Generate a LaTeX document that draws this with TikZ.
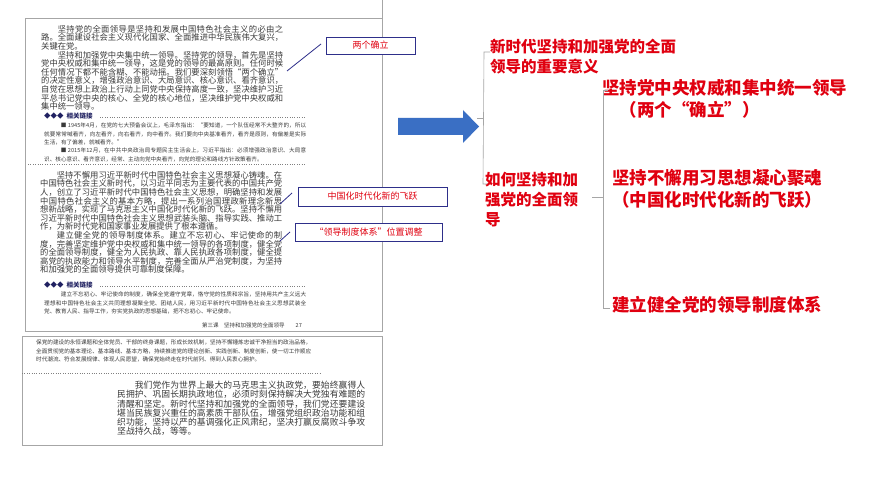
\documentclass[tikz,border=0pt]{standalone}
\usepackage{fontspec}
\setmainfont{Noto Sans CJK SC}
\XeTeXlinebreaklocale "zh"
\XeTeXlinebreakskip=0pt plus 1pt
\definecolor{redt}{HTML}{E00010}
\definecolor{navy}{HTML}{2E2F8A}
\definecolor{scan}{HTML}{3A3A3A}
\definecolor{arrowblue}{HTML}{3A6FC4}
\begin{document}
\begin{tikzpicture}[x=1pt,y=-1pt,
  para/.style={anchor=north west,inner sep=0pt,text width=#1,align=justify,text=scan,font=\fontsize{8.3}{8.6}\selectfont},
  small/.style={anchor=north west,inner sep=0pt,text width=#1,align=justify,text=scan,font=\fontsize{5.6}{8.3}\selectfont},
  link/.style={anchor=north west,inner sep=0pt,text=navy!70!black,font=\fontsize{6.5}{8}\selectfont\bfseries},
  callout/.style={draw=navy,line width=0.9pt,inner sep=0pt,text=redt,font=\fontsize{9}{10}\selectfont},
  cline/.style={draw=navy,line width=0.8pt},
  head/.style={anchor=north west,inner sep=0pt,text=redt,font=\fontsize{15.5}{20}\selectfont\bfseries,align=left},
  item/.style={anchor=north west,inner sep=0pt,text=redt,font=\fontsize{17.5}{22}\selectfont\bfseries,align=left},
  brace/.style={draw=gray!70,line width=0.6pt}]
\useasboundingbox (0,0) rectangle (870,489);
\fill[white] (0,0) rectangle (870,489);
% page frames
\draw[gray!70,line width=0.8pt] (382,0) -- (382,18) -- (25,18) -- (25,331) -- (382,331) -- (382,18);
\draw[gray!70,line width=0.8pt] (22,336) rectangle (382,445);
% page 1 text
\node[para=242pt] (p1) at (41,25) {\hspace*{2em}坚持党的全面领导是坚持和发展中国特色社会主义的必由之路。全面建设社会主义现代化国家、全面推进中华民族伟大复兴，关键在党。\par
\hspace*{2em}坚持和加强党中央集中统一领导。坚持党的领导，首先是坚持党中央权威和集中统一领导，这是党的领导的最高原则。任何时候任何情况下都不能含糊、不能动摇。我们要深刻领悟“两个确立”的决定性意义，增强政治意识、大局意识、核心意识、看齐意识，自觉在思想上政治上行动上同党中央保持高度一致，坚决维护习近平总书记党中央的核心、全党的核心地位，坚决维护党中央权威和集中统一领导。};
\node[link] (l1) at (44,113) {◆◆◆\ \ 相关链接};
\draw[gray,dotted] (100,117) -- (305,117);
\node[small=262pt] (s1) at (44,123) {\hspace*{3em}■ 1945年4月，在党的七大预备会议上，毛泽东指出：“要知道，一个队伍经常不大整齐的，所以就要常常喊看齐，向左看齐，向右看齐，向中看齐。我们要向中央基准看齐，看齐是原则，有偏差是实际生活，有了偏差，就喊看齐。”\par
\hspace*{3em}■ 2015年12月，在中共中央政治局专题民主生活会上，习近平指出：必须增强政治意识、大局意识、核心意识、看齐意识，经常、主动向党中央看齐，向党的理论和路线方针政策看齐。};
\draw[gray,dotted] (28,164) -- (305,164);
\node[para=242pt] (p2) at (40,171) {\hspace*{2em}坚持不懈用习近平新时代中国特色社会主义思想凝心铸魂。在中国特色社会主义新时代，以习近平同志为主要代表的中国共产党人，创立了习近平新时代中国特色社会主义思想，明确坚持和发展中国特色社会主义的基本方略，提出一系列治国理政新理念新思想新战略，实现了马克思主义中国化时代化新的飞跃。坚持不懈用习近平新时代中国特色社会主义思想武装头脑、指导实践、推动工作，为新时代党和国家事业发展提供了根本遵循。\par
\hspace*{2em}建立健全党的领导制度体系。建立不忘初心、牢记使命的制度，完善坚定维护党中央权威和集中统一领导的各项制度，健全党的全面领导制度，健全为人民执政、靠人民执政各项制度，健全提高党的执政能力和领导水平制度，完善全面从严治党制度，为坚持和加强党的全面领导提供可靠制度保障。};
\node[link] (l2) at (44,282) {◆◆◆\ \ 相关链接};
\draw[gray,dotted] (100,286) -- (305,286);
\node[small=262pt] (s2) at (44,292) {\hspace*{3em}建立不忘初心、牢记使命的制度，确保全党遵守党章，恪守党的性质和宗旨，坚持用共产主义远大理想和中国特色社会主义共同理想凝聚全党、团结人民，用习近平新时代中国特色社会主义思想武装全党、教育人民、指导工作，夯实党执政的思想基础，把不忘初心、牢记使命。};
\node[anchor=north east,inner sep=0pt,text=scan,font=\fontsize{5.5}{7}\selectfont] (ft) at (302,323) {第三课\quad 坚持和加强党的全面领导\qquad 27};
% page 2
\node[small=275pt] (s3) at (36,340) {保党的建设的永恒课题和全体党员、干部的终身课题，形成长效机制，坚持不懈锤炼忠诚干净担当的政治品格，全面贯彻党的基本理论、基本路线、基本方略，持续推进党的理论创新、实践创新、制度创新，使一切工作顺应时代潮流、符合发展规律、体现人民愿望，确保党始终走在时代前列、得到人民衷心拥护。};
\draw[gray,dotted] (22,373) -- (320,373);
\node[para=248pt,font=\fontsize{8.8}{9.2}\selectfont] (p3) at (117,381) {\hspace*{2em}我们党作为世界上最大的马克思主义执政党，要始终赢得人民拥护、巩固长期执政地位，必须时刻保持解决大党独有难题的清醒和坚定。新时代坚持和加强党的全面领导，我们党还要建设堪当民族复兴重任的高素质干部队伍，增强党组织政治功能和组织功能，坚持以严的基调强化正风肃纪，坚决打赢反腐败斗争攻坚战持久战，等等。};
% callouts
\node[callout,fill=white,minimum width=89pt,minimum height=17pt] (c1) at (370.5,45.5) {两个确立};
\coordinate (c1a) at (287,71);
\draw[cline] (c1a) -- (321,44);
\node[callout,fill=white,minimum width=149pt,minimum height=19pt] (c2) at (372.5,196.5) {中国化时代化新的飞跃};
\coordinate (c2a) at (280,204);
\draw[cline] (c2a) -- (292,193);
\node[callout,fill=white,minimum width=147pt,minimum height=18pt] (c3) at (368.5,232.5) {“领导制度体系”位置调整};
\coordinate (c3a) at (280,241);
\draw[cline] (c3a) -- (290,232);
% big arrow
\fill[arrowblue] (398,118) -- (463,118) -- (463,110) -- (479,126.5) -- (463,143) -- (463,135) -- (398,135) -- cycle;
% right side
\node[head] (h1) at (490,39) {新时代坚持和加强党的全面\\领导的重要意义};
\node[head] (h2) at (485,172) {如何坚持和加\\强党的全面领\\导};
\draw[brace] (h1.north west) ++(0,13) -- ++(-6,0) -- (483,184) -- (487,184);
\draw[brace] (477,118) -- (483,118);
\node[item] (i1) at (602,79) {坚持党中央权威和集中统一领导\\\hspace*{1em}（两个“确立”）};
\node[item] (i2) at (612,169) {坚持不懈用习思想凝心聚魂\\（中国化时代化新的飞跃）};
\node[item] (i3) at (612,296) {建立健全党的领导制度体系};
\draw[brace] (608,90) -- (603,90) -- (603,308) -- (610,308);
\draw[brace] (592,197) -- (603,197);
\end{tikzpicture}
\end{document}
